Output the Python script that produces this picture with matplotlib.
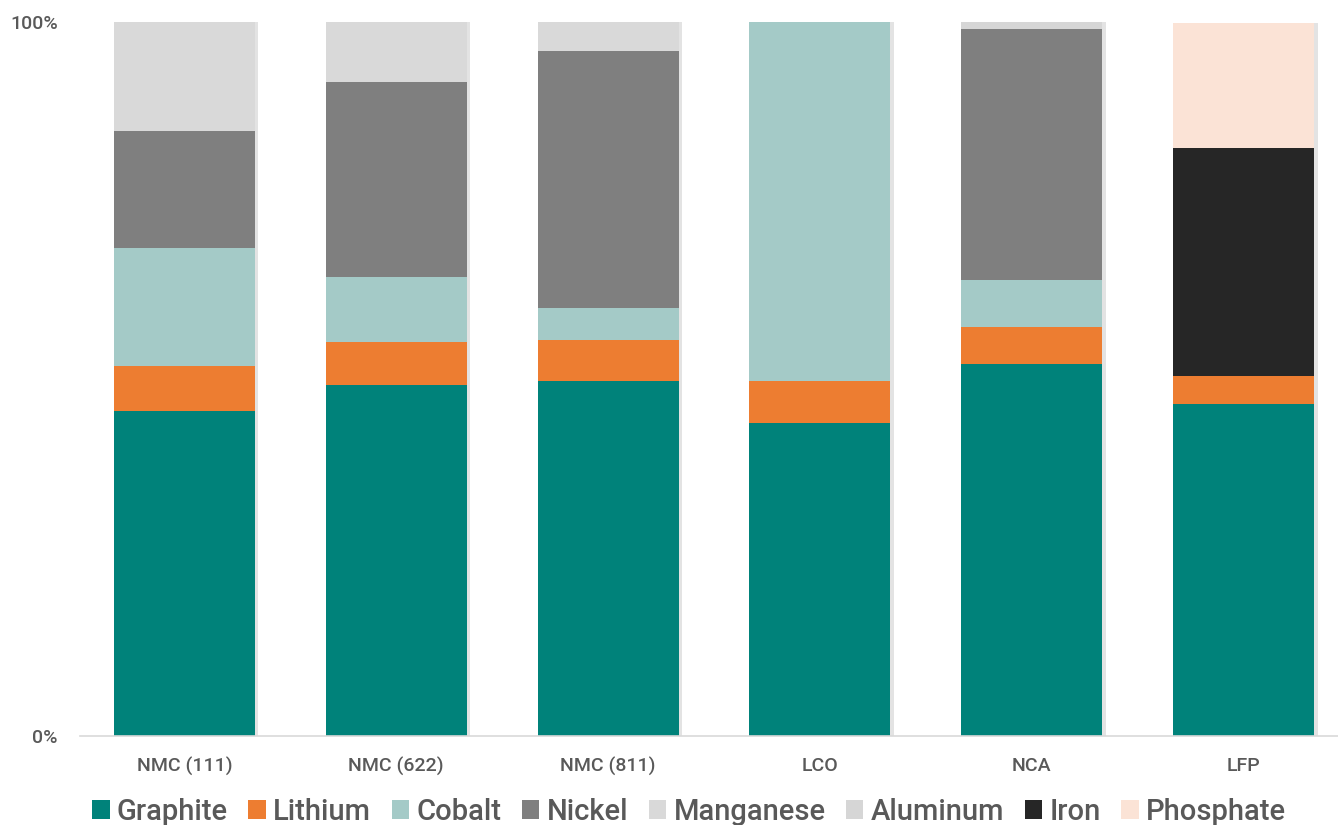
import matplotlib
matplotlib.use("Agg")
import matplotlib.pyplot as plt
import matplotlib.patheffects as pe
from matplotlib.patches import Patch
import numpy as np

categories = ["NMC (111)", "NMC (622)", "NMC (811)", "LCO", "NCA", "LFP"]
graphite  = [45.5, 49.2, 49.7, 43.8, 52.1, 46.5]
lithium   = [6.3, 6.0, 5.7, 5.9, 5.2, 3.9]
cobalt    = [16.5, 9.1, 4.6, 50.3, 6.6, 0.0]
nickel    = [16.4, 27.3, 35.9, 0.0, 35.1, 0.0]
manganese = [15.3, 8.4, 4.1, 0.0, 0.0, 0.0]
aluminum  = [0.0, 0.0, 0.0, 0.0, 1.0, 0.0]
iron      = [0.0, 0.0, 0.0, 0.0, 0.0, 31.9]
phosphate = [0.0, 0.0, 0.0, 0.0, 0.0, 17.6]

series = [
    ("Graphite", graphite, "#00827A"),
    ("Lithium", lithium, "#ED7D31"),
    ("Cobalt", cobalt, "#A4CAC7"),
    ("Nickel", nickel, "#7F7F7F"),
    ("Manganese", manganese, "#D9D9D9"),
    ("Aluminum", aluminum, "#D6D6D6"),
    ("Iron", iron, "#262626"),
    ("Phosphate", phosphate, "#FBE3D6"),
]

plt.rcParams['font.family'] = ['Roboto', 'DejaVu Sans']

fig = plt.figure(figsize=(13.38, 8.25), dpi=100)
ax = fig.add_axes([80/1338, (825-736)/825, 1-80/1338, (736-22)/825])

x = np.arange(len(categories))
bottom = np.zeros(len(categories))
handles = []
shadow = [pe.SimplePatchShadow(offset=(2.5, 0), alpha=0.22, shadow_rgbFace="#808080"), pe.Normal()]
for name, vals, color in series:
    v = np.array(vals, dtype=float)
    bars = ax.bar(x, v, width=0.666, bottom=bottom, color=color,
                  linewidth=0, zorder=2)
    for b in bars:
        b.set_path_effects(shadow)
    bottom += v
    handles.append(Patch(facecolor=color, edgecolor="none", label=name))

ax.set_xlim(-0.493, 5.446)
ax.set_ylim(0, 100)
ax.set_yticks([0, 100])
ax.set_yticklabels(["0%", "100%"])
ax.set_xticks(x)
ax.set_xticklabels(categories)
ax.tick_params(axis='both', length=0, colors="#595959", labelsize=14)
ax.tick_params(axis='x', pad=15)
ax.tick_params(axis='y', pad=16)
for lab in ax.get_yticklabels() + ax.get_xticklabels():
    lab.set_color("#595959")
    lab.set_fontweight("medium")
for s in ["top", "right", "left"]:
    ax.spines[s].set_visible(False)
ax.spines["bottom"].set_color("#D9D9D9")
ax.spines["bottom"].set_linewidth(1.2)

leg = fig.legend(handles=handles, loc="center",
                 bbox_to_anchor=(0.515, (825-812)/825), ncol=8, frameon=False,
                 prop={"size": 21, "weight": "medium"},
                 handlelength=0.6, handleheight=0.6, handletextpad=0.25,
                 columnspacing=0.7, labelcolor="#595959")

fig.savefig("out.png", dpi=100)
